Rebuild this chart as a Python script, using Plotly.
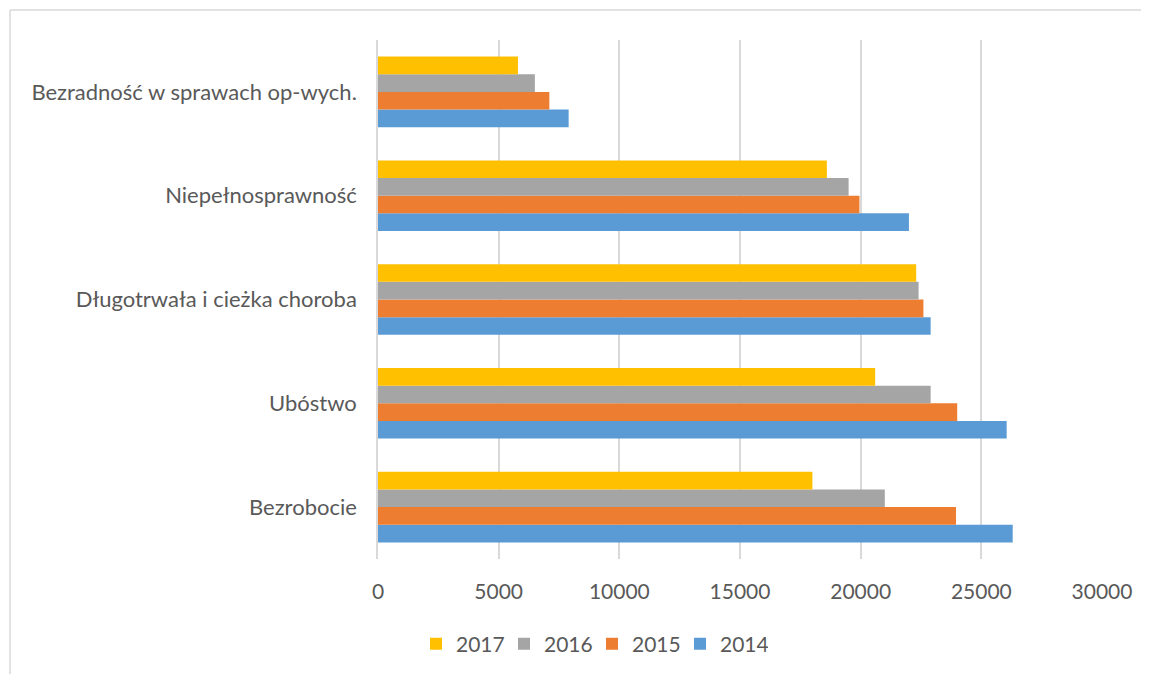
import plotly.graph_objects as go

categories = ["Bezrobocie", "Ubóstwo", "Długotrwała i cieżka choroba",
              "Niepełnosprawność", "Bezradność w sprawach op-wych."]
years = ["2014", "2015", "2016", "2017"]
v2014 = [26300, 26050, 22900, 22000, 7900]
v2015 = [23950, 24000, 22600, 19950, 7100]
v2016 = [21000, 22900, 22400, 19500, 6500]
v2017 = [18000, 20600, 22300, 18600, 5800]
series = [v2014, v2015, v2016, v2017]
colors = ["#5B9BD5", "#ED7D31", "#A5A5A5", "#FFC000"]
x_ticks = [0, 5000, 10000, 15000, 20000, 25000, 30000]

OFF = 8  # page (body) margin around the figure inside the browser
W, H = 1149 - 2 * OFF, 674 - OFF
PL, PR, PT, PB = 378, 1102, 40, 559  # target plot-area pixels (window coords)
L, T = PL - OFF, PT - OFF
pw, ph = PR - PL, PB - PT
R = W - L - pw
B = H - T - ph

def px(x):
    return (x - PL) / pw

def py(y):
    return (PB - y) / ph

fig = go.Figure()
for name, vals, col in zip(years, series, colors):
    fig.add_trace(go.Bar(y=categories, x=vals, name=name, orientation="h",
                         marker=dict(color=col, line=dict(width=0))))

font_fam = "Lato, 'Open Sans', sans-serif"
frame = dict(color="#D9D9D9", width=1.5)
fig.update_layout(
    width=W, height=H,
    margin=dict(l=L, r=R, t=T, b=B, autoexpand=False),
    barmode="group", bargap=0.32, bargroupgap=0,
    plot_bgcolor="white", paper_bgcolor="white",
    font=dict(family=font_fam, size=22, color="#595959"),
    xaxis=dict(range=[0, 30000], tickvals=x_ticks,
               ticktext=[str(t) for t in x_ticks],
               tickfont=dict(size=21),
               showgrid=True, gridcolor="#D9D9D9", gridwidth=1.5,
               zeroline=False, showline=False, ticks="",
               ticklabelstandoff=18, fixedrange=True),
    yaxis=dict(showgrid=False, zeroline=False, showline=True,
               linecolor="#D9D9D9", linewidth=1.5, ticks="",
               ticklabelstandoff=15, fixedrange=True),
    legend=dict(orientation="h", traceorder="reversed",
                x=px(592), xanchor="center", y=py(644), yanchor="middle",
                entrywidth=43, entrywidthmode="pixels",
                font=dict(size=21, color="#595959"), bgcolor="rgba(0,0,0,0)"),
    showlegend=True,
    shapes=[
        dict(type="line", xref="paper", yref="paper",
             x0=px(10), x1=px(10), y0=py(674), y1=py(10), line=frame, layer="below"),
        dict(type="line", xref="paper", yref="paper",
             x0=px(10), x1=px(1149), y0=py(10), y1=py(10), line=frame, layer="below"),
    ],
)

fig.write_html("out.html", config={"displayModeBar": False})
